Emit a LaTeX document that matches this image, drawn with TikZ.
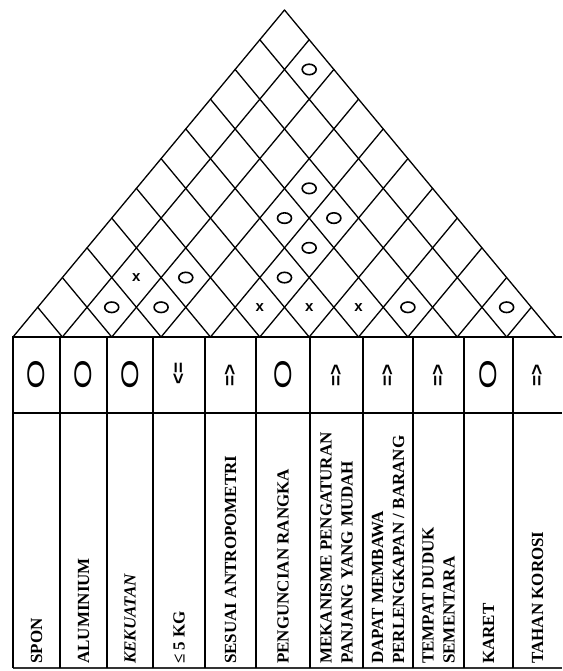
\documentclass[tikz,border=0pt]{standalone}
\usepackage{fontspec}
\setmainfont{Liberation Serif}
\newfontfamily\symfont{Liberation Sans}
\usetikzlibrary{shapes.geometric}
\begin{document}
\begin{tikzpicture}[x=1pt,y=-1pt,
  roofline/.style={line width=1.3pt, line cap=round, line join=round},
  tblthick/.style={line width=2.8pt},
  tblline/.style={line width=2pt},
  relo/.style={draw, ellipse, minimum width=14pt, minimum height=10.5pt, inner sep=0pt, line width=1.6pt},
  relx/.style={font=\symfont\bfseries\fontsize{15}{15}\selectfont, inner sep=0pt},
  lbl/.style={rotate=90, anchor=west, inner sep=0pt, align=left, font=\bfseries\fontsize{17}{21}\selectfont},
  tgt/.style={rotate=90, inner sep=0pt, font=\symfont\bfseries\fontsize{19}{19}\selectfont},
  bigo/.style={rotate=90, inner sep=0pt, font=\symfont\fontsize{24}{24}\selectfont}
]
\fill[white] (0,0) rectangle (562,671);
\useasboundingbox (0,0) rectangle (562,671);

% ---- roof grid ----
\foreach \k in {0,...,10} {
  \pgfmathsetmacro\xa{13+49.3636*\k}
  \pgfmathsetmacro\xe{(\xa+556)/2}
  \pgfmathsetmacro\ye{337-1.20442*(556-\xa)/2}
  \draw[roofline] (\xa,337) -- (\xe,\ye);
}
\foreach \k in {1,...,11} {
  \pgfmathsetmacro\xa{13+49.3636*\k}
  \pgfmathsetmacro\xe{(\xa+13)/2}
  \pgfmathsetmacro\ye{337-1.20442*(\xa-13)/2}
  \draw[roofline] (\xa,337) -- (\xe,\ye);
}

% ---- roof relations ----
\foreach \i/\j in {2/3,3/4,8/9,10/11,3/5,5/7,5/8,4/8,5/9,4/9,2/11} {
  \pgfmathsetmacro\cx{13+24.6818*(\i+\j-1)}
  \pgfmathsetmacro\cy{337-29.727*(\j-\i)}
  \node[relo] (o-\i-\j) at (\cx,\cy) {};
}
\foreach \i/\j in {5/6,6/7,7/8,2/4} {
  \pgfmathsetmacro\cx{13+24.6818*(\i+\j-1)}
  \pgfmathsetmacro\cy{337-29.727*(\j-\i)}
  \node[relx] (x-\i-\j) at (\cx,\cy) {x};
}

% ---- table ----
\draw[tblline] (13,413) -- (562,413);
\draw[line width=1.6pt, black!80] (13,668) -- (562,668);
\foreach \x in {13,60,107,153,205,256,310,363,413,464,513} {
  \draw[tblline] (\x,337) -- (\x,668);
}
\draw[tblthick] (12,337) -- (562,337);

% ---- target row ----
\node[bigo] (t1) at (36.5,375) {\scalebox{1.6}[1]{O}};
\node[bigo] (t2) at (83.5,375) {\scalebox{1.6}[1]{O}};
\node[bigo] (t3) at (130,375) {\scalebox{1.6}[1]{O}};
\node[tgt] (t4) at (179,373) {<=};
\node[tgt] (t5) at (230.5,375) {=>};
\node[bigo] (t6) at (283,375) {\scalebox{1.6}[1]{O}};
\node[tgt] (t7) at (336.5,375) {=>};
\node[tgt] (t8) at (388,375) {=>};
\node[tgt] (t9) at (438.5,375) {=>};
\node[bigo] (t10) at (488.5,375) {\scalebox{1.6}[1]{O}};
\node[tgt] (t11) at (537.5,375) {=>};

% ---- labels ----
\node[lbl] (l1) at (36.5,664) {SPON};
\node[lbl] (l2) at (83.5,664) {ALUMINIUM};
\node[lbl] (l3) at (130,664) {\itshape KEKUATAN};
\node[lbl] (l4) at (179,664) {≤ 5 KG};
\node[lbl] (l5) at (230.5,664) {SESUAI ANTROPOMETRI};
\node[lbl] (l6) at (283,664) {PENGUNCIAN RANGKA};
\node[lbl] (l7) at (336.5,664) {MEKANISME PENGATURAN\\PANJANG YANG MUDAH};
\node[lbl] (l8) at (388,664) {DAPAT MEMBAWA\\PERLENGKAPAN / BARANG};
\node[lbl] (l9) at (438.5,664) {TEMPAT DUDUK\\SEMENTARA};
\node[lbl] (l10) at (488.5,664) {KARET};
\node[lbl] (l11) at (537.5,664) {TAHAN KOROSI};
\end{tikzpicture}
\end{document}
